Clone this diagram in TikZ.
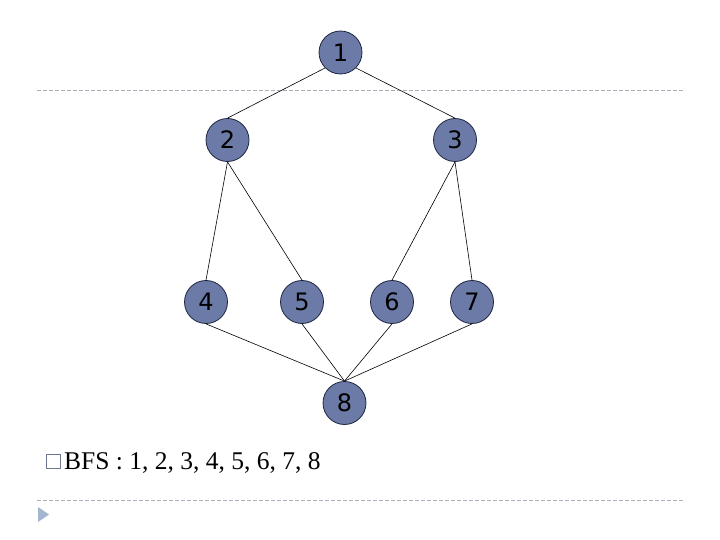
\documentclass[tikz,border=0pt]{standalone}
\usepackage{fontspec}
\setmainfont{Liberation Serif}
\newfontfamily\nodefont{DejaVu Sans}
\definecolor{nodefill}{HTML}{6B7AA6}
\definecolor{nodeedge}{HTML}{1E2540}
\definecolor{dashcol}{HTML}{A8B0BC}
\definecolor{tricol}{HTML}{A3B6CE}
\definecolor{boxcol}{HTML}{6E7690}
\begin{document}
\begin{tikzpicture}[x=1pt,y=-1pt,
  vertex/.style={circle,draw=nodeedge,line width=0.8pt,fill=nodefill,minimum size=43pt,inner sep=0pt,text=black,
    label={[font=\nodefont\fontsize{24}{28}\selectfont,text=black,inner sep=0pt]center:{\raisebox{-4pt}{#1}}}},
  edge/.style={draw=black,line width=0.6pt},
  sep/.style={draw=dashcol,line width=0.8pt,dash pattern=on 4pt off 2pt}]
\useasboundingbox (0,0) rectangle (720,540);
\coordinate (d1a) at (37,90); \coordinate (d1b) at (685,90);
\coordinate (d2a) at (37,500); \coordinate (d2b) at (685,500);
\draw[sep] (d1a) -- (d1b);
\draw[sep] (d2a) -- (d2b);
\node[vertex=1] (n1) at (340.5,52.5) {};
\node[vertex=2] (n2) at (227.5,140) {};
\node[vertex=3] (n3) at (455,140) {};
\node[vertex=4] (n4) at (206,302) {};
\node[vertex=5] (n5) at (302,302) {};
\node[vertex=6] (n6) at (392,302) {};
\node[vertex=7] (n7) at (472,302) {};
\node[vertex=8] (n8) at (344.5,403) {};
\draw[edge] (n1.south west) -- (n2.north);
\draw[edge] (n1.south east) -- (n3.north);
\draw[edge] (n2.south) -- (n4.north);
\draw[edge] (n2.south) -- (n5.north);
\draw[edge] (n3.south) -- (n6.north);
\draw[edge] (n3.south) -- (n7.north);
\draw[edge] (n4.south) -- (n8.north);
\draw[edge] (n5.south) -- (n8.north);
\draw[edge] (n6.south) -- (n8.north);
\draw[edge] (n7.south) -- (n8.north);
\node[draw=boxcol,line width=0.9pt,minimum size=14pt,inner sep=0pt] (bx) at (53,461) {};
\node[anchor=base west,inner sep=0pt,font=\fontsize{25.5}{30}\selectfont] (bfs) at (64,469) {BFS : 1, 2, 3, 4, 5, 6, 7, 8};
\fill[tricol] (38,507) -- (49,514.5) -- (38,522) -- cycle;
\end{tikzpicture}
\end{document}
